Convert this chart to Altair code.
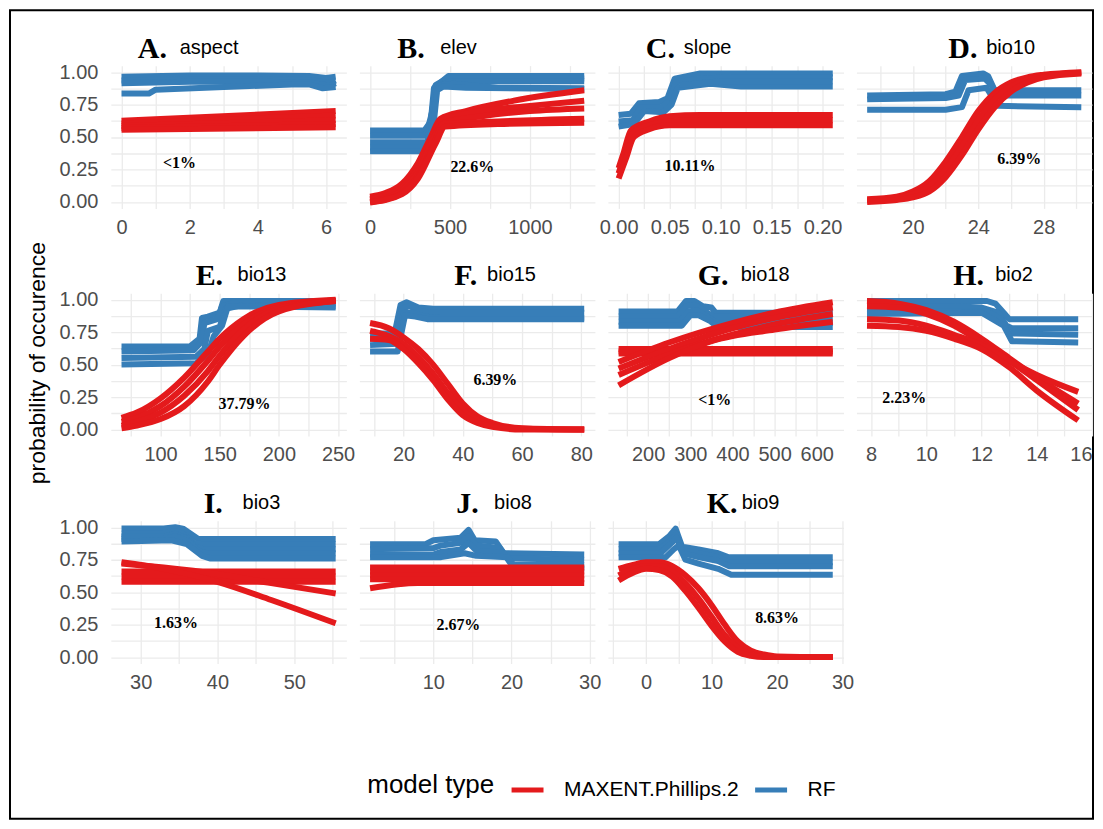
import altair as alt
import pandas as pd

# ------------------------------------------------------------------ data
PANEL_IDS = ["A", "B", "C", "D", "E", "F", "G", "H", "I", "J", "K"]
PANEL_VARS = ["aspect", "elev", "slope", "bio10", "bio13", "bio15",
              "bio18", "bio2", "bio3", "bio8", "bio9"]
PANEL_PCT = ["<1%", "22.6%", "10.11%", "6.39%", "37.79%", "6.39%",
             "<1%", "2.23%", "1.63%", "2.67%", "8.63%"]
PCT_X = [1.7, 640, 0.07, 26.5, 171, 51, 358, 9.2, 34.6, 13.2, 20]
PCT_Y = [0.30, 0.27, 0.28, 0.33, 0.20, 0.38, 0.23, 0.24, 0.26, 0.25, 0.30]

MODELS = ["MAXENT.Phillips.2", "RF"]

X_MAJOR = [[0, 2, 4, 6], [0, 500, 1000], [0, 0.05, 0.1, 0.15, 0.2], [20, 24, 28],
           [100, 150, 200, 250], [20, 40, 60, 80], [200, 300, 400, 500, 600],
           [8, 10, 12, 14, 16], [30, 40, 50], [10, 20, 30], [0, 10, 20, 30]]
X_MINOR = [[1, 3, 5], [250, 750, 1250], [0.025, 0.075, 0.125, 0.175], [18, 22, 26, 30],
           [75, 125, 175, 225], [10, 30, 50, 70], [150, 250, 350, 450, 550],
           [9, 11, 13, 15], [35, 45, 55], [5, 15, 25], [-5, 5, 15, 25]]
X_FORMAT = ["d", "d", ".2f", "d", "d", "d", "d", "d", "d", "d", "d"]
Y_MAJOR = [0, 0.25, 0.5, 0.75, 1.0]
Y_MINOR = [0.125, 0.375, 0.625, 0.875]

# response curves: each list holds several curves of (x, probability)
A_RF = [
    [(0, 0.965), (2, 0.975), (4, 0.975), (5.5, 0.97), (6.0, 0.955), (6.28, 0.965)],
    [(0, 0.935), (2, 0.945), (4, 0.945), (5.5, 0.94), (6.1, 0.915), (6.28, 0.935)],
    [(0, 0.915), (2, 0.925), (4, 0.925), (5.5, 0.92), (6.1, 0.895), (6.28, 0.915)],
    [(0, 0.835), (0.8, 0.835), (1.0, 0.865), (3, 0.885), (5, 0.905), (5.5, 0.905),
     (5.9, 0.875), (6.28, 0.885)],
]
A_MAXENT = [
    [(0, 0.625), (6.28, 0.70)],
    [(0, 0.605), (6.28, 0.665)],
    [(0, 0.585), (6.28, 0.63)],
    [(0, 0.57), (6.28, 0.60)],
    [(0, 0.555), (6.28, 0.575)],
]
B_RF = [
    [(0, 0.55), (340, 0.55), (380, 0.62), (400, 0.88), (450, 0.93), (490, 0.97), (1340, 0.97)],
    [(0, 0.51), (350, 0.51), (390, 0.70), (410, 0.90), (480, 0.95), (1340, 0.95)],
    [(0, 0.46), (360, 0.46), (400, 0.80), (420, 0.89), (500, 0.93), (1340, 0.93)],
    [(0, 0.42), (370, 0.42), (410, 0.85), (440, 0.90), (520, 0.91), (800, 0.88), (1340, 0.875)],
    [(0, 0.39), (380, 0.39), (420, 0.86), (460, 0.89), (600, 0.88), (1340, 0.87)],
]
B_MAXENT = [
    [(0, 0.04), (100, 0.07), (200, 0.14), (300, 0.30), (380, 0.50), (440, 0.64), (600, 0.70),
     (900, 0.78), (1340, 0.86)],
    [(0, 0.02), (100, 0.05), (200, 0.11), (300, 0.26), (390, 0.50), (450, 0.63), (700, 0.70),
     (1000, 0.74), (1340, 0.78)],
    [(0, 0.01), (100, 0.03), (200, 0.09), (300, 0.23), (400, 0.50), (460, 0.61), (700, 0.66),
     (1000, 0.70), (1340, 0.72)],
    [(0, 0.0), (100, 0.02), (200, 0.07), (300, 0.20), (400, 0.45), (460, 0.60), (800, 0.62),
     (1340, 0.64)],
    [(0, -0.005), (200, 0.06), (300, 0.18), (410, 0.45), (470, 0.58), (800, 0.60), (1340, 0.61)],
]
C_RF = [
    [(0, 0.67), (0.012, 0.68), (0.02, 0.76), (0.04, 0.77), (0.048, 0.80), (0.055, 0.95),
     (0.08, 0.99), (0.12, 0.99), (0.21, 0.99)],
    [(0, 0.62), (0.014, 0.63), (0.022, 0.73), (0.042, 0.73), (0.05, 0.78), (0.056, 0.92),
     (0.08, 0.95), (0.11, 0.96), (0.21, 0.96)],
    [(0, 0.58), (0.015, 0.60), (0.025, 0.70), (0.044, 0.69), (0.052, 0.75), (0.058, 0.88),
     (0.09, 0.91), (0.12, 0.89), (0.21, 0.89)],
    [(0.06, 0.90), (0.1, 0.93), (0.21, 0.93)],
]
C_MAXENT = [
    [(0, 0.26), (0.005, 0.38), (0.012, 0.55), (0.03, 0.62), (0.05, 0.66), (0.08, 0.67), (0.21, 0.67)],
    [(0, 0.22), (0.006, 0.36), (0.014, 0.53), (0.03, 0.59), (0.05, 0.62), (0.08, 0.63), (0.21, 0.63)],
    [(0, 0.18), (0.007, 0.33), (0.015, 0.50), (0.03, 0.56), (0.05, 0.59), (0.08, 0.59), (0.21, 0.59)],
]
D_RF = [
    [(17.2, 0.82), (22.0, 0.83), (22.6, 0.85), (23.0, 0.97), (24.3, 0.99), (24.6, 0.97),
     (25.0, 0.86), (30.3, 0.86)],
    [(17.2, 0.79), (22.0, 0.80), (22.8, 0.82), (23.2, 0.94), (24.4, 0.95), (24.8, 0.90),
     (25.2, 0.82), (30.3, 0.82)],
    [(17.2, 0.71), (22.0, 0.71), (23.0, 0.73), (23.4, 0.86), (24.5, 0.88), (24.9, 0.80),
     (25.2, 0.74), (30.3, 0.73)],
]
D_MAXENT = [
    [(17.2, 0.02), (19, 0.04), (20, 0.08), (21, 0.16), (22, 0.31), (23, 0.50), (24, 0.70),
     (25, 0.84), (26, 0.92), (27, 0.96), (28, 0.98), (30.3, 1.0)],
    [(17.2, 0.01), (19, 0.03), (20, 0.06), (21, 0.12), (22, 0.25), (23, 0.43), (24, 0.63),
     (25, 0.79), (26, 0.89), (27, 0.94), (28, 0.97), (30.3, 0.995)],
    [(17.2, 0.0), (19, 0.015), (20, 0.035), (21, 0.08), (22, 0.19), (23, 0.36), (24, 0.56),
     (25, 0.73), (26, 0.85), (27, 0.92), (28, 0.96), (30.3, 0.99)],
]
E_RF = [
    [(67, 0.64), (125, 0.64), (133, 0.70), (135, 0.86), (140, 0.87), (150, 0.90), (153, 0.99),
     (248, 0.99)],
    [(67, 0.60), (128, 0.61), (135, 0.68), (137, 0.82), (148, 0.85), (152, 0.95), (160, 0.97),
     (248, 0.97)],
    [(67, 0.55), (130, 0.56), (137, 0.62), (140, 0.76), (150, 0.79), (155, 0.93), (170, 0.96),
     (248, 0.95)],
    [(67, 0.50), (130, 0.51), (140, 0.58), (145, 0.72), (152, 0.80), (157, 0.95), (248, 0.94)],
]
E_MAXENT = [
    [(67, 0.09), (80, 0.13), (100, 0.24), (120, 0.40), (140, 0.60), (150, 0.70), (170, 0.85),
     (200, 0.96), (248, 1.0)],
    [(67, 0.06), (80, 0.09), (100, 0.18), (120, 0.33), (140, 0.53), (150, 0.64), (170, 0.81),
     (200, 0.94), (248, 0.995)],
    [(67, 0.03), (80, 0.06), (100, 0.13), (120, 0.26), (140, 0.45), (150, 0.57), (170, 0.77),
     (200, 0.93), (248, 0.99)],
    [(67, 0.01), (80, 0.03), (100, 0.08), (120, 0.18), (140, 0.37), (150, 0.50), (170, 0.72),
     (200, 0.91), (248, 0.99)],
]
F_RF = [
    [(8.7, 0.74), (17, 0.74), (19, 0.96), (21, 0.98), (25, 0.94), (30, 0.93), (81, 0.93)],
    [(8.7, 0.70), (17.5, 0.70), (19.5, 0.93), (22, 0.95), (26, 0.91), (30, 0.90), (81, 0.90)],
    [(8.7, 0.65), (18, 0.66), (20, 0.90), (23, 0.90), (27, 0.87), (32, 0.86), (81, 0.86)],
    [(8.7, 0.60), (18, 0.60), (20.5, 0.88), (24, 0.87), (28, 0.85), (81, 0.85)],
]
F_MAXENT = [
    [(8.7, 0.82), (15, 0.78), (20, 0.71), (25, 0.62), (30, 0.50), (35, 0.35), (40, 0.20),
     (45, 0.10), (50, 0.05), (60, 0.01), (81, 0.0)],
    [(8.7, 0.76), (15, 0.72), (20, 0.66), (25, 0.56), (30, 0.43), (35, 0.28), (40, 0.15),
     (45, 0.07), (50, 0.03), (60, 0.005), (81, 0.0)],
    [(8.7, 0.70), (15, 0.69), (20, 0.62), (25, 0.51), (30, 0.38), (35, 0.23), (40, 0.11),
     (45, 0.05), (50, 0.02), (60, 0.0), (81, 0.0)],
]
G_RF = [
    [(130, 0.91), (270, 0.91), (290, 0.99), (310, 0.99), (330, 0.95), (350, 0.94), (360, 0.90),
     (638, 0.90)],
    [(130, 0.87), (270, 0.87), (290, 0.95), (310, 0.96), (335, 0.91), (355, 0.87), (638, 0.86)],
    [(130, 0.83), (275, 0.83), (295, 0.91), (315, 0.92), (340, 0.87), (360, 0.83), (638, 0.82)],
    [(130, 0.80), (280, 0.80), (300, 0.88), (320, 0.88), (345, 0.84), (365, 0.79), (638, 0.79)],
]
G_MAXENT = [
    [(130, 0.62), (638, 0.62)],
    [(130, 0.60), (638, 0.60)],
    [(130, 0.585), (638, 0.585)],
    [(130, 0.52), (250, 0.67), (400, 0.82), (500, 0.90), (638, 0.98)],
    [(130, 0.47), (250, 0.62), (400, 0.78), (500, 0.86), (638, 0.94)],
    [(130, 0.42), (250, 0.58), (400, 0.73), (500, 0.81), (638, 0.89)],
    [(130, 0.34), (250, 0.55), (350, 0.68), (500, 0.77), (638, 0.83)],
]
H_RF = [
    [(7.85, 0.99), (12.2, 0.99), (12.5, 0.97), (12.8, 0.90), (13.0, 0.85), (15.5, 0.85)],
    [(7.85, 0.95), (11, 0.95), (12.0, 0.94), (12.6, 0.90), (12.9, 0.80), (13.1, 0.78), (15.5, 0.78)],
    [(7.85, 0.91), (11, 0.91), (12.2, 0.91), (12.7, 0.85), (13.0, 0.74), (15.5, 0.73)],
    [(7.85, 0.89), (12.0, 0.90), (12.8, 0.80), (13.1, 0.68), (15.5, 0.67)],
]
H_MAXENT = [
    [(7.85, 0.99), (9, 0.97), (10, 0.92), (11, 0.83), (12, 0.70), (13, 0.55), (14, 0.40), (15.5, 0.20)],
    [(7.85, 0.95), (9, 0.94), (10, 0.89), (11, 0.80), (12, 0.67), (13, 0.53), (14, 0.42), (15.5, 0.29)],
    [(7.85, 0.85), (9, 0.84), (10, 0.80), (11, 0.73), (12, 0.65), (13, 0.53), (14, 0.38), (15.5, 0.15)],
    [(7.85, 0.80), (9, 0.79), (10, 0.76), (11, 0.70), (12, 0.62), (13, 0.48), (14, 0.30), (15.5, 0.07)],
]
I_RF = [
    [(27.5, 0.99), (33, 0.99), (34.5, 1.0), (35.5, 0.99), (36.5, 0.95), (37.5, 0.91), (55.4, 0.91)],
    [(27.5, 0.95), (33, 0.95), (34.5, 0.97), (35.5, 0.95), (37, 0.88), (38, 0.87), (55.4, 0.87)],
    [(27.5, 0.93), (33, 0.93), (34.5, 0.95), (35.8, 0.92), (37.2, 0.85), (38.2, 0.83), (55.4, 0.83)],
    [(27.5, 0.91), (33, 0.91), (34.5, 0.93), (36, 0.90), (37.5, 0.82), (38.5, 0.80), (55.4, 0.80)],
    [(27.5, 0.89), (34, 0.90), (36, 0.87), (38, 0.78), (39, 0.76), (55.4, 0.76)],
]
I_MAXENT = [
    [(27.5, 0.66), (55.4, 0.66)],
    [(27.5, 0.62), (55.4, 0.62)],
    [(27.5, 0.58), (55.4, 0.58)],
    [(27.5, 0.72), (33, 0.69), (40, 0.64), (47, 0.57), (55.4, 0.49)],
    [(27.5, 0.73), (33, 0.68), (40, 0.58), (47, 0.44), (55.4, 0.26)],
]
J_RF = [
    [(1.9, 0.87), (9, 0.87), (10, 0.90), (13.5, 0.92), (14.5, 0.98), (15.3, 0.90), (18, 0.89),
     (19, 0.80), (29.3, 0.79)],
    [(1.9, 0.83), (10, 0.84), (11, 0.86), (13.5, 0.88), (14.5, 0.93), (15.5, 0.86), (18.5, 0.84),
     (19.5, 0.76), (29.3, 0.75)],
    [(1.9, 0.79), (10, 0.79), (11, 0.81), (13.5, 0.83), (14.5, 0.88), (15.5, 0.82), (19, 0.80),
     (20, 0.71), (29.3, 0.71)],
    [(1.9, 0.77), (11, 0.77), (14, 0.80), (15.5, 0.78), (19.5, 0.77), (20.5, 0.69), (29.3, 0.68)],
]
J_MAXENT = [
    [(1.9, 0.69), (29.3, 0.69)],
    [(1.9, 0.66), (29.3, 0.66)],
    [(1.9, 0.63), (29.3, 0.63)],
    [(1.9, 0.60), (29.3, 0.60)],
    [(1.9, 0.53), (8, 0.57), (29.3, 0.57)],
]
K_RF = [
    [(-4.2, 0.87), (2, 0.87), (3.5, 0.93), (4.5, 0.99), (5.5, 0.85), (8, 0.83), (11, 0.80),
     (12.5, 0.77), (28.5, 0.77)],
    [(-4.2, 0.83), (2, 0.83), (3.8, 0.90), (4.6, 0.95), (5.6, 0.82), (8, 0.80), (11, 0.77),
     (12.5, 0.73), (28.5, 0.73)],
    [(-4.2, 0.80), (2.2, 0.80), (3.9, 0.88), (4.65, 0.92), (5.7, 0.80), (8, 0.77), (11, 0.74),
     (12.7, 0.70), (28.5, 0.70)],
    [(-4.2, 0.77), (3, 0.77), (4.2, 0.83), (5.0, 0.86), (6, 0.75), (8, 0.72), (11, 0.68),
     (13, 0.635), (28.5, 0.635)],
]
K_MAXENT = [
    [(-4.2, 0.68), (-2, 0.71), (0, 0.73), (2, 0.73), (4, 0.70), (6, 0.63), (8, 0.53), (10, 0.40),
     (12, 0.25), (14, 0.12), (16, 0.05), (18, 0.02), (20, 0.005), (28.5, 0.0)],
    [(-4.2, 0.63), (-2, 0.68), (0, 0.70), (2, 0.70), (4, 0.66), (6, 0.57), (8, 0.45), (10, 0.31),
     (12, 0.17), (14, 0.07), (16, 0.02), (18, 0.005), (20, 0.0), (28.5, 0.0)],
    [(-4.2, 0.59), (-2, 0.65), (0, 0.68), (2, 0.67), (4, 0.62), (6, 0.51), (8, 0.38), (10, 0.24),
     (12, 0.12), (14, 0.04), (16, 0.01), (18, 0.0), (28.5, 0.0)],
]

CURVES = {
    "A": (A_MAXENT, A_RF), "B": (B_MAXENT, B_RF), "C": (C_MAXENT, C_RF),
    "D": (D_MAXENT, D_RF), "E": (E_MAXENT, E_RF), "F": (F_MAXENT, F_RF),
    "G": (G_MAXENT, G_RF), "H": (H_MAXENT, H_RF), "I": (I_MAXENT, I_RF),
    "J": (J_MAXENT, J_RF), "K": (K_MAXENT, K_RF),
}

# ------------------------------------------------------------------ style
RED = "#E41A1C"
BLUE = "#377EB8"
PANEL_W, PANEL_H = 236, 143
LINE_W = 6
LETTER_X = [27, 38, 38, 92, 85, 95, 90, 97, 93, 97, 99]
WORD_X = [69, 81, 76, 130, 127, 128, 133, 139, 132, 135, 134]
SANS = "Liberation Sans"
SERIF = "Liberation Serif"

rows = []
for pid in PANEL_IDS:
    for model, curves in zip(MODELS, CURVES[pid]):
        for ci, curve in enumerate(curves):
            for i, (x, y) in enumerate(curve):
                rows.append({"panel": pid, "model": model, "curve": f"{model}-{ci}",
                             "i": i, "x": x, "y": y})
df = pd.DataFrame(rows)

color = alt.Color(
    "model:N",
    scale=alt.Scale(domain=MODELS, range=[RED, BLUE]),
    legend=alt.Legend(title="model type"),
)
one = pd.DataFrame({"k": [0]})


def is_major(vals):
    return "(" + " || ".join(f"abs(datum.value - ({float(v)!r})) < 1e-9" for v in vals) + ")"


panels = []
for k, pid in enumerate(PANEL_IDS):
    d = df[df.panel == pid]
    lo, hi = d.x.min(), d.x.max()
    pad = 0.05 * (hi - lo)
    dom = [lo - pad, hi + pad]
    if pid == "H":
        dom = [lo - pad, 16.0]
    xvals = sorted(v for v in X_MAJOR[k] + X_MINOR[k] if dom[0] <= v <= dom[1])
    xexpr = f"{is_major(X_MAJOR[k])} ? format(datum.value, '{X_FORMAT[k]}') : ''"
    xaxis = alt.Axis(values=xvals, labelExpr=xexpr, title=None, grid=True, ticks=False,
                     domain=False, labelFontSize=20, labelColor="#4D4D4D", labelFont=SANS,
                     labelPadding=9, labelFlush=(pid == "H"), labelOverlap=False)
    first_col = (k % 4 == 0)
    yexpr = f"{is_major(Y_MAJOR)} ? format(datum.value, '.2f') : ''"
    yaxis = alt.Axis(values=sorted(Y_MAJOR + Y_MINOR), labelExpr=yexpr, title=None,
                     grid=True, ticks=False, domain=False, labels=first_col,
                     labelFontSize=20, labelColor="#4D4D4D", labelFont=SANS,
                     labelPadding=13)
    X = alt.X("x:Q", scale=alt.Scale(domain=dom, nice=False, zero=False), axis=xaxis)
    Y = alt.Y("y:Q", scale=alt.Scale(domain=[-0.05, 1.05], nice=False, zero=False), axis=yaxis)

    blue = alt.Chart(d[d.model == "RF"]).mark_line(
        strokeWidth=LINE_W, strokeJoin="round"
    ).encode(x=X, y=Y, color=color, detail="curve:N", order="i:Q")
    red = alt.Chart(d[d.model == MODELS[0]]).mark_line(
        strokeWidth=LINE_W, strokeJoin="round", interpolate="monotone"
    ).encode(x=X, y=Y, color=color, detail="curve:N", order="i:Q")
    pct = alt.Chart(pd.DataFrame({"x": [PCT_X[k]], "y": [PCT_Y[k]], "t": [PANEL_PCT[k]]})
                    ).mark_text(font=SERIF, fontWeight="bold", fontSize=16, color="black"
                                ).encode(x=X, y=Y, text="t:N")
    letter = alt.Chart(one).mark_text(
        font=SERIF, fontWeight="bold", fontSize=30, color="black", align="left",
        baseline="alphabetic"
    ).encode(x=alt.value(LETTER_X[k]), y=alt.value(-8), text=alt.value(f"{pid}."))
    word = alt.Chart(one).mark_text(
        font=SANS, fontSize=20, color="black", align="left", baseline="alphabetic"
    ).encode(x=alt.value(WORD_X[k]), y=alt.value(-12), text=alt.value(PANEL_VARS[k]))

    layers = [blue, red, pct, letter, word]
    if pid == "A":
        frame = alt.Chart(one).mark_rect(
            fillOpacity=0, stroke="black", strokeWidth=2
        ).encode(x=alt.value(-101), x2=alt.value(984), y=alt.value(-55.5), y2=alt.value(754.5))
        layers.append(frame)
    if pid == "E":
        ytitle = alt.Chart(one).mark_text(
            font=SANS, fontSize=23, color="black", angle=270, align="center",
            baseline="middle"
        ).encode(x=alt.value(-73), y=alt.value(70), text=alt.value("probability of occurence"))
        layers.append(ytitle)
    panels.append(alt.layer(*layers).properties(width=PANEL_W, height=PANEL_H))

chart = alt.concat(
    *panels, columns=4, spacing={"row": 85, "column": 13}, bounds="flush"
).properties(
    padding=0
).configure_view(
    stroke="transparent"
).configure_axis(
    gridColor="#EBEBEB", gridWidth=1.3
).configure_legend(
    orient="none", legendX=257, legendY=707, direction="horizontal", titleOrient="left",
    symbolType="stroke", symbolStrokeWidth=5, symbolSize=1024, labelFontSize=21,
    titleFontSize=26, titleFontWeight="normal", labelFont=SANS, titleFont=SANS,
    labelColor="black", titleColor="black", titlePadding=14, labelOffset=18,
    columnPadding=5, titleBaseline="middle", titleAnchor="middle", labelLimit=0
)

chart.save("out.html", embed_options={"renderer": "svg", "actions": False})
